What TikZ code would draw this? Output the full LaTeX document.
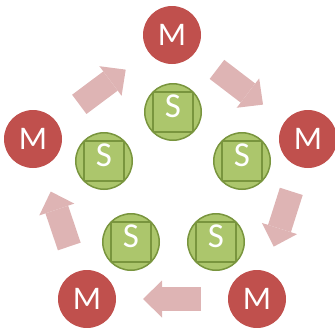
\documentclass[tikz,border=0pt]{standalone}
\usepackage{fontspec}
\setmainfont{Carlito}
\usetikzlibrary{calc,arrows.meta}

\definecolor{mred}{RGB}{192,80,77}
\definecolor{sgreen}{RGB}{172,198,108}
\definecolor{sline}{RGB}{121,149,62}
\definecolor{apink}{RGB}{222,180,180}

\begin{document}
\begin{tikzpicture}[x=1pt,y=-1pt]
	\tikzstyle{every node}=[circle,inner sep=0pt,text=white]
	\tikzstyle{mnode}=[fill=mred,minimum size=58pt,font=\fontsize{33}{33}\selectfont,text height=21pt,text depth=0pt]
	\tikzstyle{snode}=[fill=sgreen,draw=sline,line width=1.5pt,minimum size=56.5pt,font=\fontsize{35}{35}\selectfont,text height=13pt,text depth=3pt,
		path picture={\draw[sline,line width=1.5pt] ([shift={(-20pt,-20pt)}]path picture bounding box.center) rectangle ([shift={(20pt,20pt)}]path picture bounding box.center);}]
	\tikzstyle{flowarrow}=[apink,line width=24pt,-{Triangle[width=37pt,length=19pt,line width=0pt]}]

	\useasboundingbox (0,0) rectangle (335,327);

	% outer ring
	\node[mnode] (mT) at (172,35) {M};
	\node[mnode] (mR) at (308,139) {M};
	\node[mnode] (mBR) at (257,299) {M};
	\node[mnode] (mBL) at (87,299) {M};
	\node[mnode] (mL) at (33,139) {M};

	% inner ring
	\node[snode] (sT) at (173,112) {S};
	\node[snode] (sR) at (242,161) {S};
	\node[snode] (sBR) at (216,242) {S};
	\node[snode] (sBL) at (131,242) {S};
	\node[snode] (sL) at (104,161) {S};

	% arrows between the M's
	\foreach \a/\b in {mL/mT,mT/mR,mR/mBR,mBR/mBL,mBL/mL}
		\draw[flowarrow] ($(\a)!0.5!(\b)!29pt!(\a)$) -- ($(\a)!0.5!(\b)!29pt!(\b)$);

\end{tikzpicture}
\end{document}
